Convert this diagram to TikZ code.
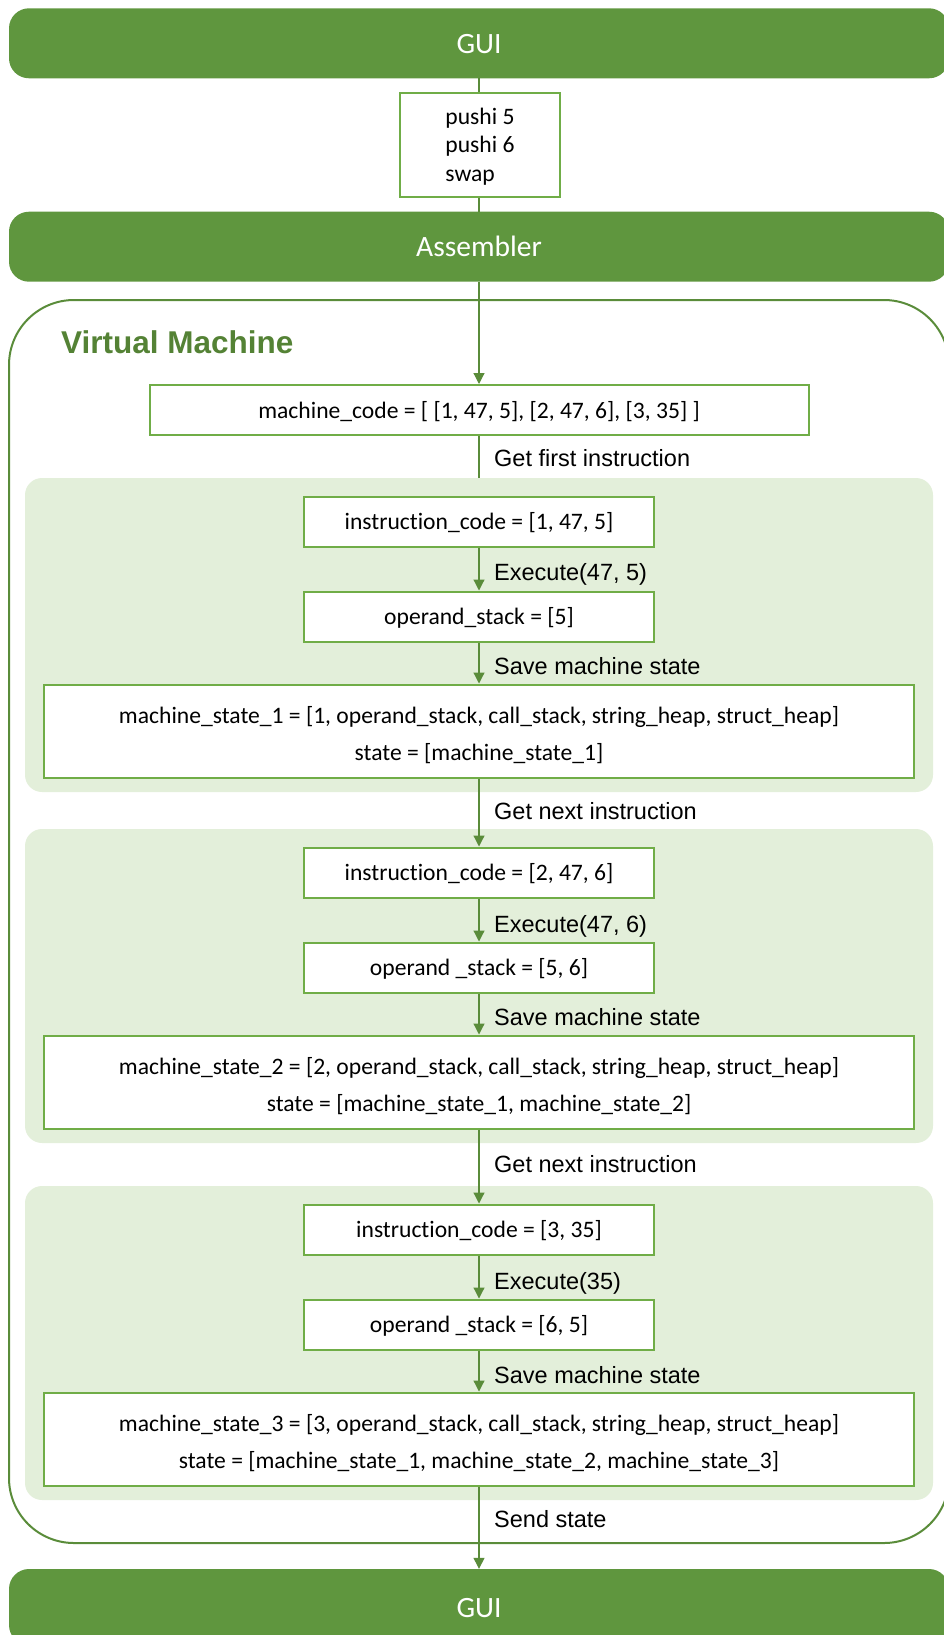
\documentclass[tikz,border=0pt]{standalone}
\usepackage{fontspec}
\setmainfont{Carlito}[Ligatures=NoCommon]
\newfontfamily\labelfont{Liberation Sans}
\usetikzlibrary{arrows.meta}
\definecolor{barGreen}{HTML}{5F963E}
\definecolor{lineGreen}{HTML}{5A8C3A}
\definecolor{boxGreen}{HTML}{70AD47}
\definecolor{panelGreen}{HTML}{E3EFDA}
\definecolor{titleGreen}{HTML}{548235}

\begin{document}
\begin{tikzpicture}[x=1pt,y=-1pt,
  bar/.style={fill=barGreen, draw=none, rounded corners=20pt, minimum width=940pt,
    minimum height=70pt, text=white, font=\fontsize{29.5}{35}\selectfont,
    text height=22pt, text depth=2pt, inner sep=0pt},
  codebox/.style={draw=boxGreen, line width=2pt, fill=white, inner sep=0pt,
    font=\fontsize{23.6}{28.5}\selectfont, align=left, minimum width=160pt,
    minimum height=104pt, text height=78pt, text depth=6pt},
  onebox/.style={draw=boxGreen, line width=2pt, fill=white, inner sep=0pt,
    font=\fontsize{23.6}{28}\selectfont, minimum height=50pt,
    text height=18pt, text depth=2pt},
  twobox/.style={draw=boxGreen, line width=2pt, fill=white, inner sep=0pt,
    font=\fontsize{23.6}{37}\selectfont, align=center, minimum width=870pt,
    minimum height=93pt, text height=64pt, text depth=6pt},
  panel/.style={fill=panelGreen, draw=none, rounded corners=17pt, minimum width=908pt,
    minimum height=314pt, inner sep=0pt},
  frame/.style={draw=lineGreen, line width=2pt, rounded corners=65pt,
    minimum width=940pt, minimum height=1243pt, inner sep=0pt},
  flow/.style={draw=lineGreen, line width=1.2pt},
  arr/.style={flow, -{Triangle[width=11pt,length=11pt]}},
  steplabel/.style={anchor=base west, inner sep=0pt,
    font=\labelfont\fontsize{23.5}{28}\selectfont},
]
\useasboundingbox (0,0) rectangle (944,1635);
\clip (0,0) rectangle (944,1635);

% outer blocks
\node[bar] (gui1) at (479,43.3) {GUI};
\node[codebox] (code) at (480,145) {pushi 5\\pushi 6\\swap};
\node[bar] (asm) at (479,246.7) {Assembler};

% virtual machine container
\node[frame] (vm) at (479,921.5) {};
\node[anchor=base west, inner sep=0pt, text=titleGreen,
  font=\labelfont\bfseries\fontsize{31.5}{36}\selectfont] (vmtitle) at (61,353) {Virtual Machine};

\node[onebox, minimum width=659pt] (mc) at (479,410)
  {machine\_code = [ [1, 47, 5], [2, 47, 6], [3, 35] ]};

% one panel per executed instruction
\node[panel] (p1) at (479,635) {};
\node[panel] (p2) at (479,986) {};
\node[panel] (p3) at (479,1343) {};

\node[onebox, minimum width=350pt] (i1) at (479,521.5) {instruction\_code = [1, 47, 5]};
\node[onebox, minimum width=350pt] (o1) at (479,616.5) {operand\_stack = [5]};
\node[twobox] (s1) at (479,731)
  {machine\_state\_1 = [1, operand\_stack, call\_stack, string\_heap, struct\_heap]\\
   state = [machine\_state\_1]};

\node[onebox, minimum width=350pt] (i2) at (479,872.5) {instruction\_code = [2, 47, 6]};
\node[onebox, minimum width=350pt] (o2) at (479,967.5) {operand \_stack = [5, 6]};
\node[twobox] (s2) at (479,1082)
  {machine\_state\_2 = [2, operand\_stack, call\_stack, string\_heap, struct\_heap]\\
   state = [machine\_state\_1, machine\_state\_2]};

\node[onebox, minimum width=350pt] (i3) at (479,1229.5) {instruction\_code = [3, 35]};
\node[onebox, minimum width=350pt] (o3) at (479,1324.5) {operand \_stack = [6, 5]};
\node[twobox] (s3) at (479,1439)
  {machine\_state\_3 = [3, operand\_stack, call\_stack, string\_heap, struct\_heap]\\
   state = [machine\_state\_1, machine\_state\_2, machine\_state\_3]};

\node[bar, minimum height=76pt] (gui2) at (479,1607) {GUI};

% connectors
\draw[flow] (gui1.south) -- (gui1.south |- code.north);
\draw[flow] (asm.north |- code.south) -- (asm.north);
\draw[arr] (asm.south) -- (mc.north);
\draw[flow] (mc.south) -- (mc.south |- p1.north);
\draw[arr] (i1) -- (o1);
\draw[arr] (o1) -- (s1);
\draw[arr] (s1) -- (i2);
\draw[arr] (i2) -- (o2);
\draw[arr] (o2) -- (s2);
\draw[arr] (s2) -- (i3);
\draw[arr] (i3) -- (o3);
\draw[arr] (o3) -- (s3);
\draw[arr] (s3) -- (gui2);

% connector labels
\node[steplabel] (l1) at (494,466.7) {Get first instruction};
\node[steplabel] (l2) at (494,580.3) {Execute(47, 5)};
\node[steplabel] (l3) at (494,674.2) {Save machine state};
\node[steplabel] (l4) at (494,819.3) {Get next instruction};
\node[steplabel] (l5) at (494,932.7) {Execute(47, 6)};
\node[steplabel] (l6) at (494,1025.7) {Save machine state};
\node[steplabel] (l7) at (494,1172.7) {Get next instruction};
\node[steplabel] (l8) at (494,1289.7) {Execute(35)};
\node[steplabel] (l9) at (494,1383.7) {Save machine state};
\node[steplabel] (l10) at (494,1527) {Send state};
\end{tikzpicture}
\end{document}
